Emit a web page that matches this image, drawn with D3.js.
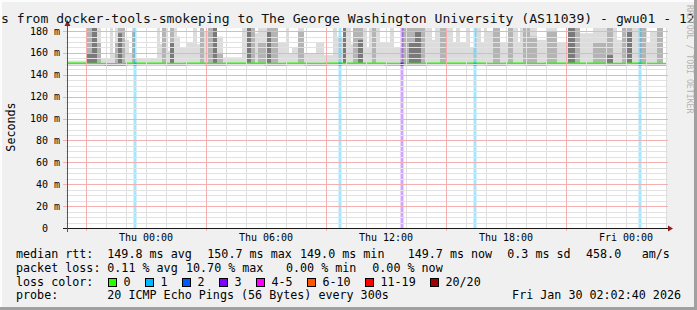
<!DOCTYPE html>
<html>
<head>
<meta charset="utf-8">
<script src="https://cdn.jsdelivr.net/npm/d3@7"></script>
<style>
  body { margin: 0; background: #f0f0f0; }
  svg { display: block; }
  text { font-family: "DejaVu Sans Mono", monospace; }
</style>
</head>
<body>
<svg width="697" height="310"></svg>
<script>
const width = 697;
const height = 310;

// times are hours relative to Thu 00:00
const smokeStart = [-3.95, -2.95, -2.7, -2.45, -2.25, -1.8, -1.65, -1.55, -1.4, -1.2, -1.05, -0.85, -0.7, -0.55,
  0.55, 0.7, 0.8, 1.0, 1.1, 1.2, 1.4, 1.55, 1.7, 2.05, 2.35, 2.55, 2.7, 2.9, 3.1, 3.35, 3.55, 3.85,
  4.8, 5.05, 5.25, 5.45, 5.6, 6.0, 6.25, 6.6, 7.0, 7.15, 7.3, 7.6, 7.9, 8.5, 8.9, 9.35, 9.55,
  9.85, 10.05, 10.25, 10.35, 10.6, 10.85, 11.05, 11.15, 11.3, 11.5, 11.7, 12.2, 12.4, 12.8,
  13.15, 13.45, 13.75, 13.95, 14.3, 14.45, 14.7, 15.05, 15.35, 15.5, 15.7, 16.0, 16.2, 16.45,
  16.75, 16.9, 17.05, 17.35, 17.7, 18.1, 18.35, 18.6, 18.7, 18.85, 19.2, 19.55, 20.05, 20.55,
  21.1, 21.45, 21.7, 22.35, 23.05, 23.35, 23.55, 23.8, 24.05, 24.3, 24.7, 25.0, 25.2, 25.55];
const smokeEnd = 25.85;
const smokeLight = [153, 185, 185, 185, 155, 185, 160, 185, 185, 185, 172, 160, 185, 155,
  185, 168, 185, 185, 162, 185, 185, 175, 165, 170, 185, 168, 185, 180, 185, 185, 175, 156,
  185, 185, 185, 178, 185, 185, 185, 170, 185, 160, 165, 185, 160, 170, 158, 185, 175,
  185, 185, 168, 185, 185, 185, 165, 185, 185, 185, 170, 185, 165, 185,
  185, 185, 185, 185, 172, 185, 185, 185, 170, 185, 170, 185, 165, 185,
  170, 185, 180, 185, 170, 185, 185, 170, 185, 185, 185, 172, 185, 170,
  185, 185, 178, 185, 185, 185, 172, 185, 185, 185, 185, 170, 180, 185];
const smokeMid = [151, 185, 185, 170, 0, 0, 0, 170, 185, 185, 0, 0, 180, 0,
  0, 0, 185, 0, 0, 185, 0, 0, 0, 0, 0, 0, 185, 0, 185, 185, 160, 0,
  0, 185, 185, 0, 170, 185, 185, 0, 0, 0, 0, 180, 0, 0, 0, 0, 0,
  185, 0, 0, 185, 185, 0, 0, 0, 185, 0, 0, 0, 0, 185,
  185, 185, 185, 0, 0, 0, 185, 0, 0, 0, 0, 0, 0, 0,
  0, 0, 0, 185, 0, 185, 0, 0, 0, 185, 175, 0, 180, 0,
  185, 185, 0, 170, 185, 0, 0, 185, 185, 0, 185, 0, 0, 185];
const smokeDark = [0, 160, 185, 0, 0, 0, 0, 0, 178, 0, 0, 0, 0, 0,
  0, 0, 0, 0, 0, 170, 0, 0, 0, 0, 0, 0, 0, 0, 0, 185, 0, 0,
  0, 185, 0, 0, 0, 180, 0, 0, 0, 0, 0, 0, 0, 0, 0, 0, 0,
  185, 0, 0, 0, 172, 0, 0, 0, 0, 0, 0, 0, 0, 0,
  170, 180, 0, 0, 0, 0, 0, 0, 0, 0, 0, 0, 0, 0,
  0, 0, 0, 0, 0, 0, 0, 0, 0, 0, 0, 0, 0, 0,
  185, 0, 0, 0, 158, 0, 0, 0, 180, 0, 0, 0, 0, 0];

const medianHour = [-4, -3, -2, -1, 0, 1, 2, 3, 4, 5, 6, 7, 8, 9, 10, 11, 12, 13, 14, 15,
  16, 17, 18, 19, 20, 21, 22, 23, 24, 25, 26];
const medianValue = [149.8, 149.6, 149.5, 149.8, 149.9, 149.6, 149.8, 149.7, 149.8, 149.9, 149.6,
  149.8, 149.7, 149.8, 149.8, 149.9, 149.7, 149.6, 149.8, 149.8, 149.9, 149.7, 149.8, 149.6,
  149.8, 150.0, 149.8, 149.7, 149.9, 149.7, 149.7];

const lossHour = [-0.55, 9.7, 12.8, 16.45, 24.7];
const lossCount = [1, 1, 3, 1, 1];

const lossLabels = ["0", "1", "2", "3", "4-5", "6-10", "11-19", "20/20"];
const lossColors = ["#26ff00", "#00b8ff", "#0059ff", "#7e00ff", "#ff00ff", "#ff5500", "#ff0000", "#a10000"];

const yTicks = [0, 20, 40, 60, 80, 100, 120, 140, 160, 180];
const xLabelHours = [0, 6, 12, 18, 24];

const rttStats = ["149.8 ms avg", "150.7 ms max", "149.0 ms min", "149.7 ms now", "0.3 ms sd", "458.0", "am/s"];
const lossStats = ["0.11 % avg", "10.70 % max", "0.00 % min", "0.00 % now"];
const probeText = "20 ICMP Echo Pings (56 Bytes) every 300s";
const stampText = "Fri Jan 30 02:02:40 2026";
const titleText = "s from docker-tools-smokeping to The George Washington University (AS11039) - gwu01 - 12";

const base = new Date(2026, 0, 29, 0, 0, 0);
const hr = h => new Date(base.getTime() + h * 3600e3);
const colorOf = n => n <= 3 ? lossColors[n] : n <= 5 ? lossColors[4] : n <= 10 ? lossColors[5] : n < 20 ? lossColors[6] : lossColors[7];

const svg = d3.select("svg");

const x = d3.scaleTime().domain([hr(-3.95), hr(26.05)]).range([67, 667]);
const y = d3.scaleLinear().domain([0, 182.8]).range([228, 28]);

// frame
svg.append("rect").attr("width", width).attr("height", height).attr("fill", "#f0f0f0");
svg.append("rect").attr("x", 0).attr("y", 0).attr("width", width).attr("height", 2).attr("fill", "#fcfcfc");
svg.append("rect").attr("x", 0).attr("y", 0).attr("width", 2).attr("height", height).attr("fill", "#fcfcfc");
svg.append("rect").attr("x", 0).attr("y", height - 3).attr("width", width).attr("height", 3).attr("fill", "#a0a0a0");
svg.append("rect").attr("x", width - 3).attr("y", 0).attr("width", 3).attr("height", height).attr("fill", "#a0a0a0");

svg.append("rect").attr("x", 67).attr("y", 28).attr("width", 600).attr("height", 200).attr("fill", "#fff");

svg.append("clipPath").attr("id", "plot")
  .append("rect").attr("x", 67).attr("y", 28).attr("width", 600).attr("height", 200);

const plot = svg.append("g").attr("clip-path", "url(#plot)");

// smoke
const segs = smokeStart.map((s, i) => ({
  t0: s,
  t1: i < smokeStart.length - 1 ? smokeStart[i + 1] : smokeEnd,
  L: smokeLight[i], M: smokeMid[i], D: smokeDark[i]
}));
const bands = [
  { key: "L", color: "#dcdcdc" },
  { key: "M", color: "#b4b4b4" },
  { key: "D", color: "#7a7a7a" }
];
bands.forEach(b => {
  plot.append("g").selectAll("rect")
    .data(segs.filter(d => d[b.key] > 0))
    .join("rect")
    .attr("x", d => x(hr(d.t0)))
    .attr("width", d => x(hr(d.t1)) - x(hr(d.t0)))
    .attr("y", d => y(d[b.key]))
    .attr("height", d => y(149) - y(d[b.key]))
    .attr("fill", b.color);
});

// loss background bars
plot.append("g").selectAll("rect")
  .data(lossHour.map((h, i) => ({ h, n: lossCount[i] })))
  .join("rect")
  .attr("x", d => x(hr(d.h)) - 1.5)
  .attr("width", 3)
  .attr("y", 28)
  .attr("height", 200)
  .attr("fill", d => colorOf(d.n))
  .attr("fill-opacity", 0.35);

// grid
const hours = x.ticks(d3.timeHour.every(1));
const minorV = hours.filter(d => d.getHours() % 6 !== 3);
const majorV = hours.filter(d => d.getHours() % 6 === 3);
const minorH = d3.range(5, 185, 5).filter(v => v % 20 !== 0);
const grid = svg.append("g").attr("shape-rendering", "crispEdges");

grid.append("g").selectAll("line").data(minorV).join("line")
  .attr("x1", d => Math.round(x(d)) + 0.5).attr("x2", d => Math.round(x(d)) + 0.5)
  .attr("y1", 28).attr("y2", 228)
  .attr("stroke", "#dedede");
grid.append("g").selectAll("line").data(minorH).join("line")
  .attr("x1", 65).attr("x2", 668)
  .attr("y1", d => Math.round(y(d)) + 0.5).attr("y2", d => Math.round(y(d)) + 0.5)
  .attr("stroke", "#e2e2e2");
grid.append("g").selectAll("line").data(majorV).join("line")
  .attr("x1", d => Math.round(x(d)) + 0.5).attr("x2", d => Math.round(x(d)) + 0.5)
  .attr("y1", 28).attr("y2", 231)
  .attr("stroke", "#f4b0b0");
grid.append("g").selectAll("line").data(yTicks.filter(v => v > 0)).join("line")
  .attr("x1", 63).attr("x2", 668)
  .attr("y1", d => Math.round(y(d)) + 0.5).attr("y2", d => Math.round(y(d)) + 0.5)
  .attr("stroke", "#f4b0b0");

// median line
const med = medianHour.map((h, i) => ({ h, v: medianValue[i] }));
plot.append("path")
  .datum(med)
  .attr("d", d3.line().x(d => x(hr(d.h))).y(d => y(d.v)).curve(d3.curveStepAfter))
  .attr("fill", "none")
  .attr("stroke", lossColors[0])
  .attr("stroke-width", 3);

plot.append("g").selectAll("line")
  .data(lossHour.map((h, i) => ({ h, n: lossCount[i] })))
  .join("line")
  .attr("x1", d => x(hr(d.h)) - 1.5).attr("x2", d => x(hr(d.h)) + 1.5)
  .attr("y1", y(149.8)).attr("y2", y(149.8))
  .attr("stroke", d => colorOf(d.n))
  .attr("stroke-width", 3);

// axes
svg.append("line").attr("x1", 63).attr("x2", 669).attr("y1", 228.5).attr("y2", 228.5)
  .attr("stroke", "#1a1a1a");
svg.append("line").attr("x1", 67.5).attr("x2", 67.5).attr("y1", 232).attr("y2", 25)
  .attr("stroke", "#555");
svg.append("path").attr("d", "M673,228.5 L668,225.5 L668,231.5 Z").attr("fill", "#8f1d1d");
svg.append("path").attr("d", "M67.5,20 L64.5,26 L70.5,26 Z").attr("fill", "#8f1d1d");

// y labels
svg.append("g").selectAll("text")
  .data(yTicks).join("text")
  .attr("x", 60)
  .attr("y", d => y(d) + 3.5)
  .attr("text-anchor", "end")
  .style("white-space", "pre")
  .style("font-size", "10px")
  .attr("fill", "#000")
  .text(d => d === 0 ? "0  " : d + " m");

// x labels
const fmt = d3.timeFormat("%a %H:%M");
svg.append("g").selectAll("text")
  .data(xLabelHours).join("text")
  .attr("x", d => x(hr(d)))
  .attr("y", 241)
  .attr("text-anchor", "middle")
  .style("font-size", "10px")
  .text(d => fmt(hr(d)));

// title and side texts
svg.append("text").attr("x", 1).attr("y", 23)
  .style("font-size", "13.1px").attr("fill", "#111").text(titleText);

svg.append("text")
  .attr("transform", "translate(15,127) rotate(-90)")
  .attr("text-anchor", "middle")
  .style("font-size", "11.7px")
  .text("Seconds");

svg.append("text")
  .attr("transform", "translate(687,5) rotate(90)")
  .style("font-size", "8.2px")
  .attr("fill", "#b4b4b4")
  .text("RRDTOOL / TOBI OETIKER");

// legend
const legend = svg.append("g").style("font-size", "11.7px").attr("fill", "#000");
const rowY = [258, 271.7, 285.5, 299];
["median rtt:", "packet loss:", "loss color:", "probe:"].forEach((t, i) => {
  legend.append("text").attr("x", 16).attr("y", rowY[i]).text(t);
});
const rttX = [107.3, 207.3, 300, 407.7, 507.3, 586, 641.7];
rttStats.forEach((t, i) => legend.append("text").attr("x", rttX[i]).attr("y", rowY[0]).text(t));
const lossX = [107.3, 186, 286, 372.3];
lossStats.forEach((t, i) => legend.append("text").attr("x", lossX[i]).attr("y", rowY[1]).text(t));

const swatchX = [108.5, 145.5, 182.5, 219.5, 256.5, 307.5, 365.5, 430.5];
lossLabels.forEach((t, i) => {
  legend.append("rect")
    .attr("x", swatchX[i]).attr("y", 278.5)
    .attr("width", 8).attr("height", 8)
    .attr("fill", lossColors[i])
    .attr("stroke", "#000");
  legend.append("text").attr("x", swatchX[i] + 15).attr("y", rowY[2]).text(t);
});

legend.append("text").attr("x", 107.3).attr("y", rowY[3]).text(probeText);
legend.append("text").attr("x", 681).attr("y", rowY[3]).attr("text-anchor", "end").text(stampText);
</script>
</body>
</html>
